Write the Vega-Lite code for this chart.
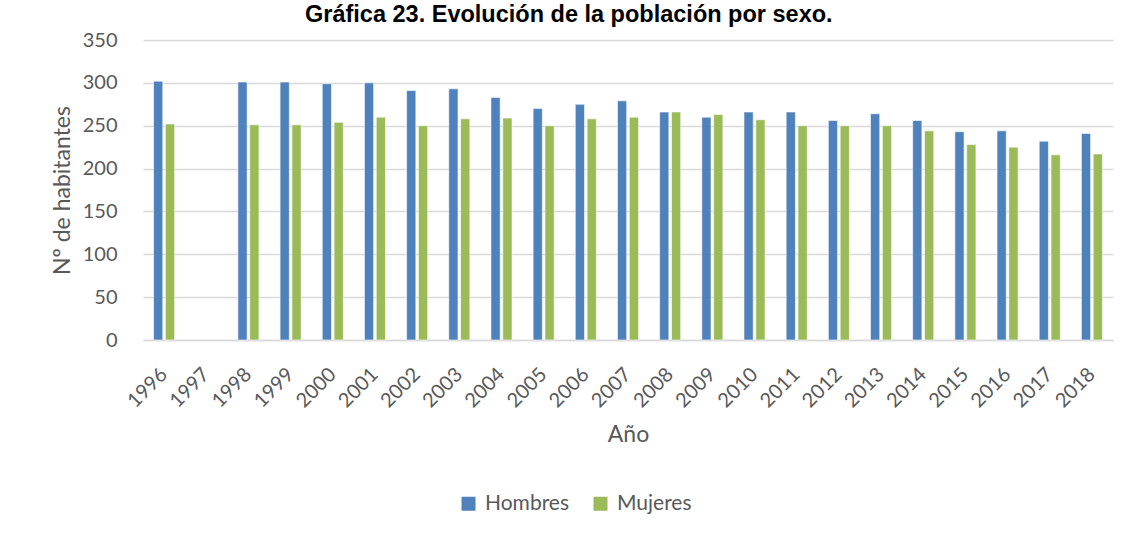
{
  "$schema": "https://vega.github.io/schema/vega-lite/v6.json",
  "autosize": {"type": "none"},
  "width": 970,
  "height": 300,
  "padding": {"left": 143, "top": 40, "right": 15, "bottom": 196},
  "background": "white",
  "title": {
    "text": "Gráfica 23. Evolución de la población por sexo.",
    "font": "Liberation Sans",
    "fontSize": 23.5,
    "fontWeight": "bold",
    "color": "#000000",
    "anchor": "start",
    "frame": "group",
    "dx": 162,
    "dy": 29,
    "baseline": "bottom",
    "offset": 9
  },
  "data": {
    "values": [
      {"year": "1996", "sexo": "Hombres", "n": 302},
      {"year": "1996", "sexo": "Mujeres", "n": 252},
      {"year": "1998", "sexo": "Hombres", "n": 301},
      {"year": "1998", "sexo": "Mujeres", "n": 251},
      {"year": "1999", "sexo": "Hombres", "n": 301},
      {"year": "1999", "sexo": "Mujeres", "n": 251},
      {"year": "2000", "sexo": "Hombres", "n": 299},
      {"year": "2000", "sexo": "Mujeres", "n": 254},
      {"year": "2001", "sexo": "Hombres", "n": 300},
      {"year": "2001", "sexo": "Mujeres", "n": 260},
      {"year": "2002", "sexo": "Hombres", "n": 291},
      {"year": "2002", "sexo": "Mujeres", "n": 250},
      {"year": "2003", "sexo": "Hombres", "n": 293},
      {"year": "2003", "sexo": "Mujeres", "n": 258},
      {"year": "2004", "sexo": "Hombres", "n": 283},
      {"year": "2004", "sexo": "Mujeres", "n": 259},
      {"year": "2005", "sexo": "Hombres", "n": 270},
      {"year": "2005", "sexo": "Mujeres", "n": 250},
      {"year": "2006", "sexo": "Hombres", "n": 275},
      {"year": "2006", "sexo": "Mujeres", "n": 258},
      {"year": "2007", "sexo": "Hombres", "n": 279},
      {"year": "2007", "sexo": "Mujeres", "n": 260},
      {"year": "2008", "sexo": "Hombres", "n": 266},
      {"year": "2008", "sexo": "Mujeres", "n": 266},
      {"year": "2009", "sexo": "Hombres", "n": 260},
      {"year": "2009", "sexo": "Mujeres", "n": 263},
      {"year": "2010", "sexo": "Hombres", "n": 266},
      {"year": "2010", "sexo": "Mujeres", "n": 257},
      {"year": "2011", "sexo": "Hombres", "n": 266},
      {"year": "2011", "sexo": "Mujeres", "n": 250},
      {"year": "2012", "sexo": "Hombres", "n": 256},
      {"year": "2012", "sexo": "Mujeres", "n": 250},
      {"year": "2013", "sexo": "Hombres", "n": 264},
      {"year": "2013", "sexo": "Mujeres", "n": 250},
      {"year": "2014", "sexo": "Hombres", "n": 256},
      {"year": "2014", "sexo": "Mujeres", "n": 244},
      {"year": "2015", "sexo": "Hombres", "n": 243},
      {"year": "2015", "sexo": "Mujeres", "n": 228},
      {"year": "2016", "sexo": "Hombres", "n": 244},
      {"year": "2016", "sexo": "Mujeres", "n": 225},
      {"year": "2017", "sexo": "Hombres", "n": 232},
      {"year": "2017", "sexo": "Mujeres", "n": 216},
      {"year": "2018", "sexo": "Hombres", "n": 241},
      {"year": "2018", "sexo": "Mujeres", "n": 217}
    ]
  },
  "mark": {"type": "bar", "stroke": "#ffffff", "strokeWidth": 0.6},
  "encoding": {
    "x": {
      "field": "year",
      "type": "nominal",
      "scale": {
        "domain": ["1996","1997","1998","1999","2000","2001","2002","2003","2004","2005","2006","2007","2008","2009","2010","2011","2012","2013","2014","2015","2016","2017","2018"],
        "paddingInner": 0.5,
        "paddingOuter": 0.25
      },
      "axis": {
        "title": "Año",
        "titleFont": "Lato",
        "titleFontSize": 23,
        "titleFontWeight": "normal",
        "titleColor": "#595959",
        "titlePadding": 13,
        "labelAngle": -45,
        "labelFont": "Lato",
        "labelFontSize": 20,
        "labelColor": "#595959",
        "labelPadding": 24,
        "labelOffset": -7,
        "ticks": false,
        "domain": true,
        "domainColor": "#d9d9d9",
        "domainWidth": 1.5,
        "grid": false
      }
    },
    "xOffset": {
      "field": "sexo",
      "type": "nominal",
      "scale": {"paddingInner": 0.22}
    },
    "y": {
      "field": "n",
      "type": "quantitative",
      "scale": {"domain": [0, 350]},
      "axis": {
        "title": "Nº de habitantes",
        "titleFont": "Lato",
        "titleFontSize": 23,
        "titleFontWeight": "normal",
        "titleColor": "#595959",
        "titlePadding": 8,
        "values": [0, 50, 100, 150, 200, 250, 300, 350],
        "labelFont": "Lato",
        "labelFontSize": 20,
        "labelColor": "#595959",
        "labelPadding": 26,
        "ticks": false,
        "domain": false,
        "grid": true,
        "gridColor": "#d9d9d9",
        "gridWidth": 1.5
      }
    },
    "color": {
      "field": "sexo",
      "type": "nominal",
      "scale": {"domain": ["Hombres", "Mujeres"], "range": ["#4F81BD", "#9BBB59"]},
      "legend": {
        "title": null,
        "orient": "none",
        "direction": "horizontal",
        "legendX": 315,
        "legendY": 453,
        "symbolType": "square",
        "symbolSize": 196,
        "symbolStrokeWidth": 0,
        "labelFont": "Lato",
        "labelFontSize": 21,
        "labelColor": "#595959",
        "columnPadding": 20,
        "labelOffset": 6
      }
    }
  },
  "config": {
    "view": {"stroke": null}
  }
}
